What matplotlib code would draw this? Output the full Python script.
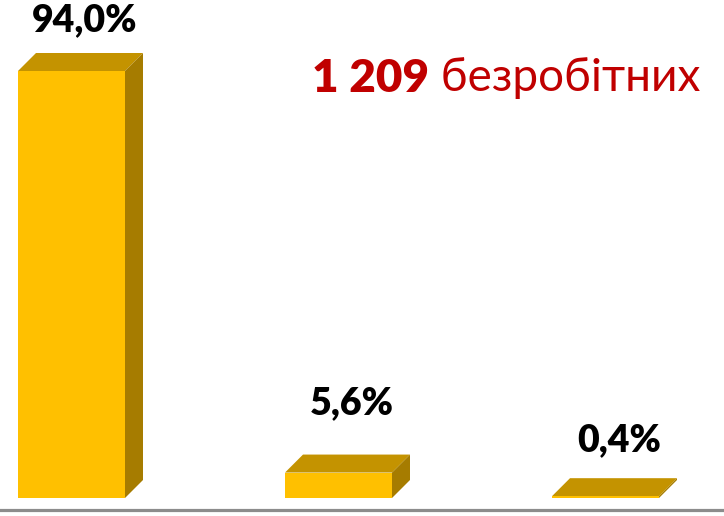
import matplotlib.pyplot as plt
from matplotlib.patches import Polygon

# data
categories = ["A", "B", "C"]
shares = [94.0, 5.6, 0.4]
labels = ["94,0%", "5,6%", "0,4%"]
total_num = "1 209"
total_word = "безробітних"

plt.rcParams['font.family'] = ['Lato', 'DejaVu Sans']

fig = plt.figure(figsize=(7.24, 5.16), dpi=100)
ax = fig.add_axes([0, 0, 1, 1])

# px -> data mapping (267 px between bars, 4.543 px per percent)
px_x = 267.0
px_y = 427.0 / 94.0
ax.set_xlim(-71.5 / px_x, (724 - 71.5) / px_x)
ax.set_ylim(-18 / px_y, 498 / px_y)
ax.axis('off')

width = 107 / px_x
dx = 18 / px_x
dy = 18 / px_y
front_c = '#FFC000'
top_c = '#C49300'
side_c = '#A67C00'

xs = range(len(categories))
ax.bar(xs, shares, width=width, color=front_c, zorder=3)
for x, v in zip(xs, shares):
    l, r = x - width / 2, x + width / 2
    ax.add_patch(Polygon([(l, v), (r, v), (r + dx, v + dy), (l + dx, v + dy)],
                         closed=True, color=top_c, lw=0, zorder=2))
    ax.add_patch(Polygon([(r, 0), (r + dx, dy), (r + dx, v + dy), (r, v)],
                         closed=True, color=side_c, lw=0, zorder=2))

# value labels
offsets = [16, 34, 21]
for x, v, t, off in zip(xs, shares, labels, offsets):
    ax.annotate(t, (x + 0.05, v + dy), xytext=(0, off * 0.72), textcoords='offset points',
                ha='center', va='bottom', fontsize=27, fontweight='heavy', color='black')

# baseline
ax.axhline(-12 / px_y, color='#8c8c8c', lw=2.3, zorder=1)

# headline
t1 = fig.text(312 / 724, 1 - 92 / 516, total_num, color='#C00000', fontsize=33,
              fontweight='heavy', ha='left', va='baseline')
ax.annotate(" " + total_word, xy=(1, 0), xycoords=t1, ha='left', va='bottom',
            color='#C00000', fontsize=33)

fig.savefig('out.png', dpi=100)
